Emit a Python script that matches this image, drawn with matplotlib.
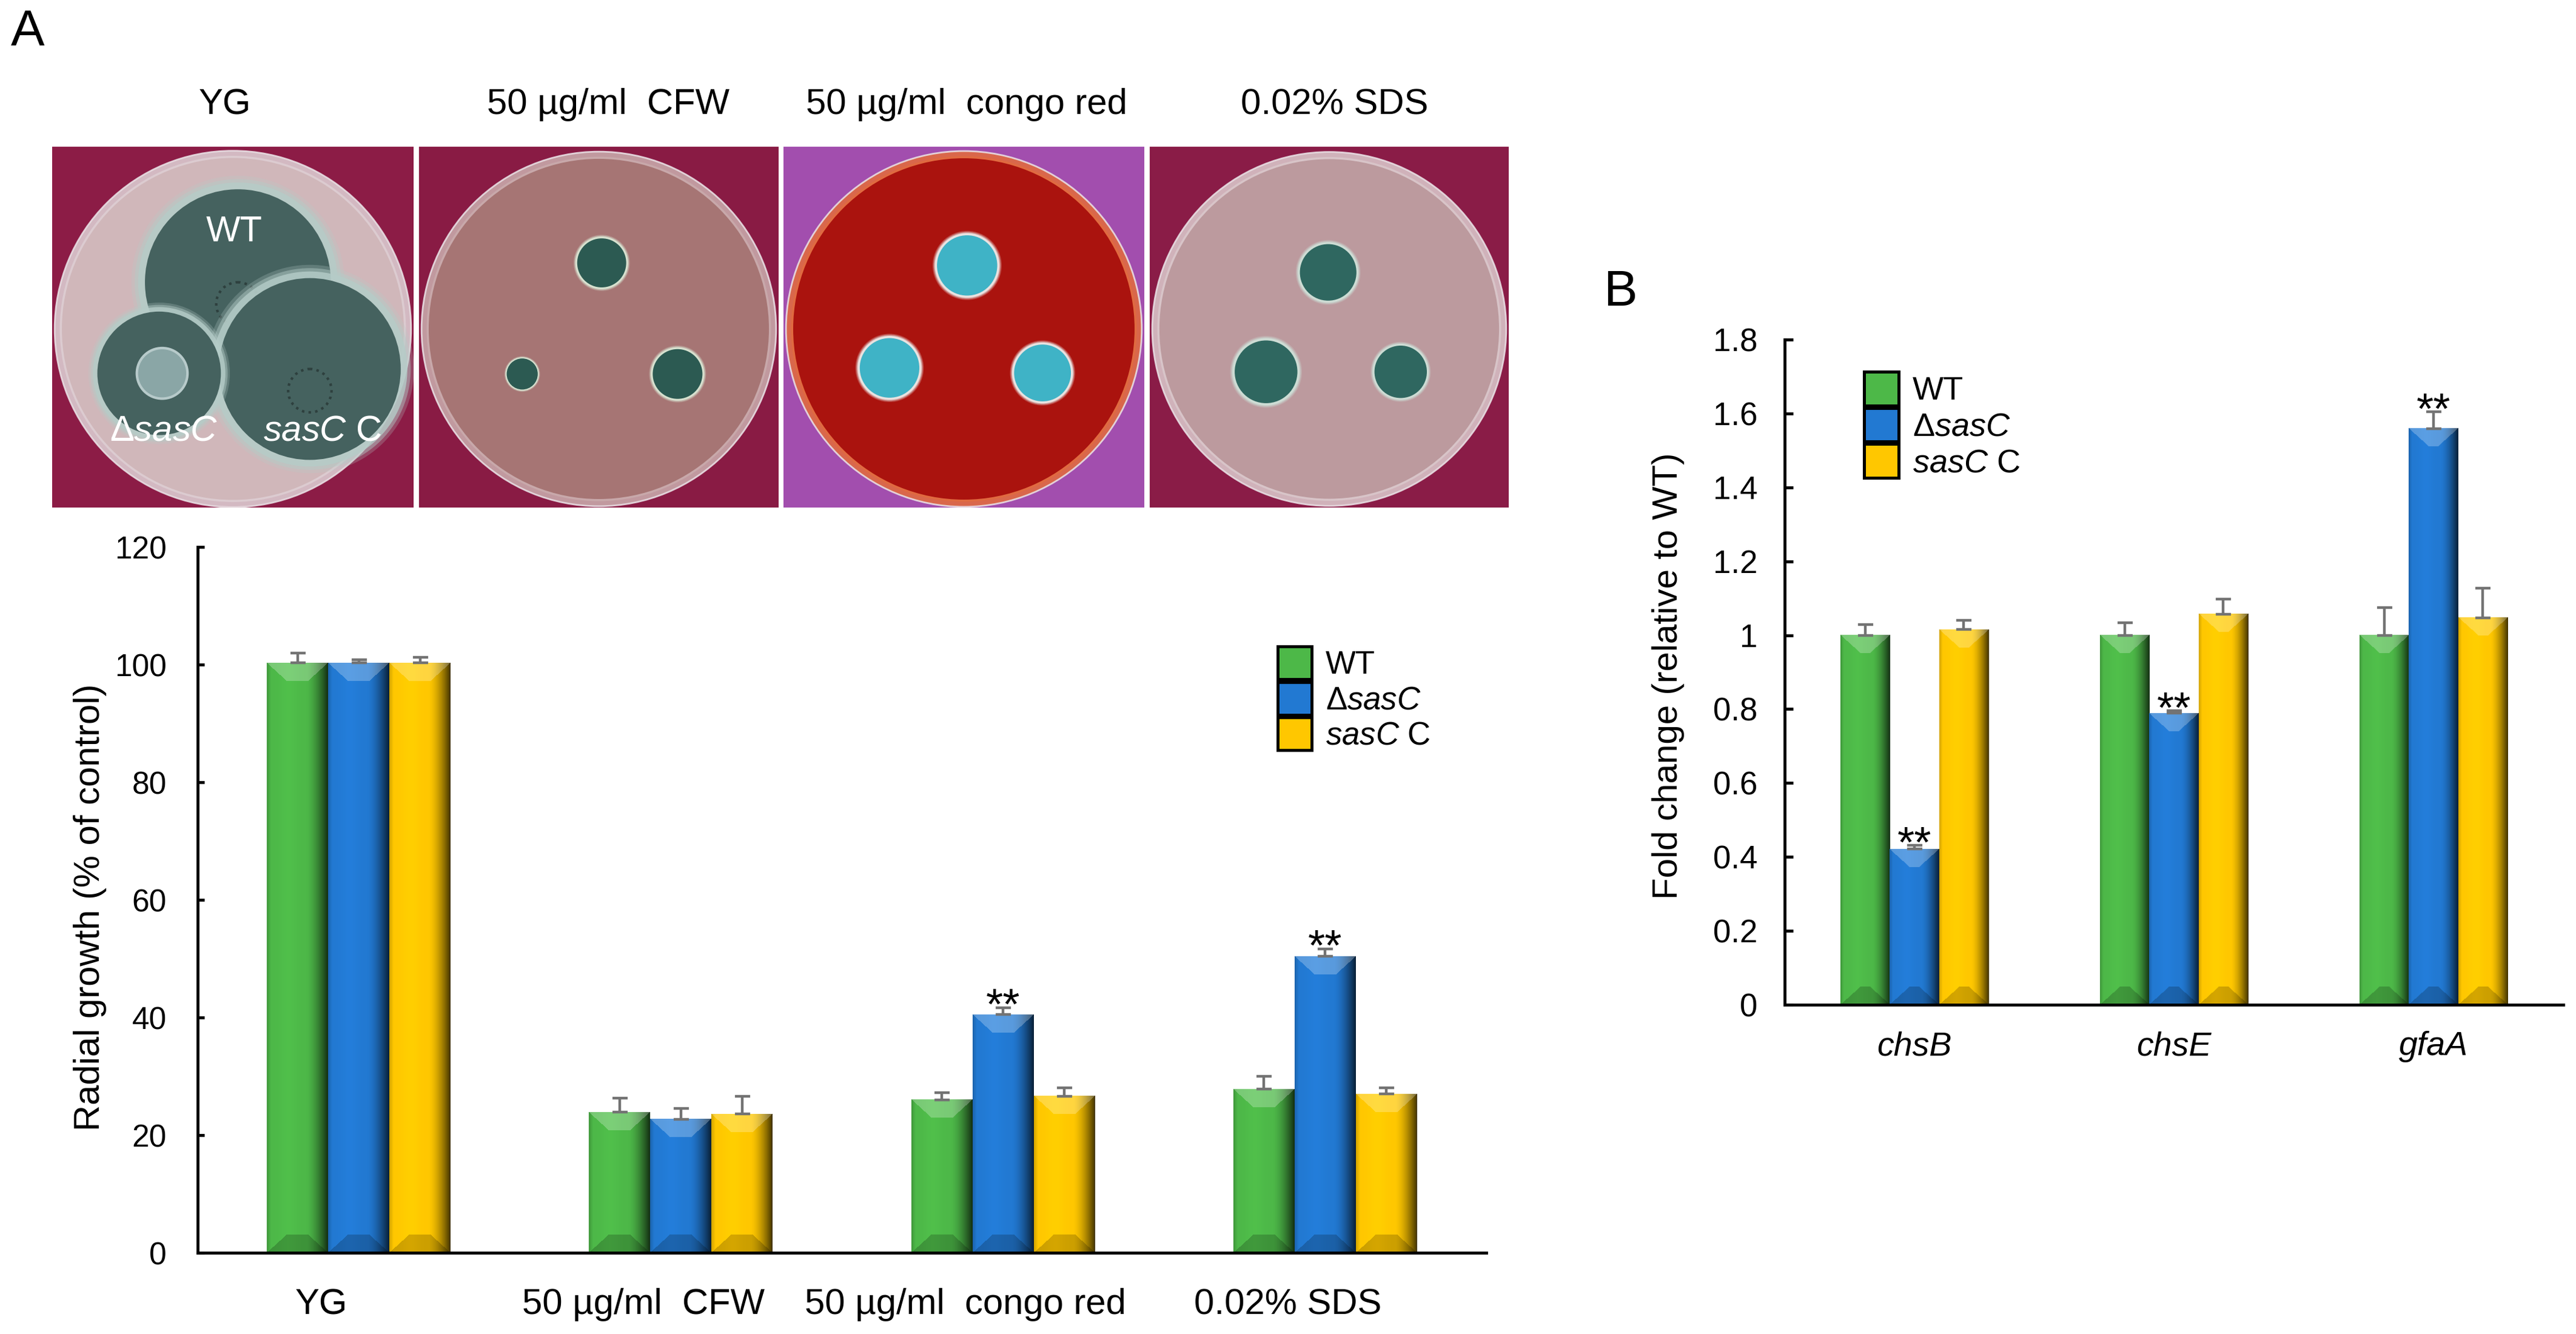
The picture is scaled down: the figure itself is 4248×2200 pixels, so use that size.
import numpy as np
import matplotlib
matplotlib.use("Agg")
import matplotlib.pyplot as plt
import matplotlib.colors as mcolors
import matplotlib.transforms as mtransforms
from matplotlib.patches import Patch, Rectangle, Circle

plt.rcParams['font.family'] = ['Liberation Sans', 'DejaVu Sans']
plt.rcParams['mathtext.fontset'] = 'custom'
plt.rcParams['mathtext.rm'] = 'Liberation Sans'
plt.rcParams['mathtext.it'] = 'Liberation Sans:italic'
plt.rcParams['mathtext.bf'] = 'Liberation Sans:bold'

# ---------------- data ----------------
strain_labels = ['WT', r'$\mathrm{\Delta}\mathit{sasC}$', r'$\mathit{sasC}\ \mathrm{C}$']
strain_colors = ['#4DB848', '#2279D2', '#FFC700']

conditions = ['YG', '50 µg/ml  CFW', '50 µg/ml  congo red', '0.02% SDS']
wt_growth = [100.3, 23.9, 26.0, 27.8]
wt_growth_err = [1.7, 2.4, 1.2, 2.2]
dsasC_growth = [100.3, 22.7, 40.5, 50.4]
dsasC_growth_err = [0.5, 1.8, 1.2, 1.3]
sasCC_growth = [100.3, 23.6, 26.6, 27.0]
sasCC_growth_err = [0.9, 3.0, 1.4, 1.0]
growth_sig = [False, False, True, True]
growth_ticks = [0, 20, 40, 60, 80, 100, 120]

genes = ['chsB', 'chsE', 'gfaA']
wt_fold = [1.0, 1.0, 1.0]
wt_fold_err = [0.028, 0.034, 0.075]
dsasC_fold = [0.421, 0.789, 1.559]
dsasC_fold_err = [0.010, 0.006, 0.045]
sasCC_fold = [1.015, 1.057, 1.047]
sasCC_fold_err = [0.025, 0.040, 0.080]
fold_sig = [True, True, True]
fold_ticks = [0, 0.2, 0.4, 0.6, 0.8, 1.0, 1.2, 1.4, 1.6, 1.8]

# ---------------- figure ----------------
W, H = 4248, 2200
fig = plt.figure(figsize=(W / 100, H / 100), dpi=100)
fig.patch.set_facecolor('white')


def fr(x0, y0, x1, y1):
    """pixel box (top-left origin) -> figure fraction rect"""
    return [x0 / W, 1 - y1 / H, (x1 - x0) / W, (y1 - y0) / H]


def bevel_image(color, wpx, hpx, bevel=30):
    c = np.array(mcolors.to_rgb(color))
    Wp = max(int(round(wpx)), 2)
    Hp = max(int(round(hpx)), 2)
    u = (np.arange(Wp) + 0.5) / Wp
    f = np.ones(Wp)
    f = np.where(u < 0.07, 0.82 + 0.18 * (u / 0.07), f)
    f = f * (1 + 0.04 * np.exp(-((u - 0.35) / 0.15) ** 2))
    t = np.clip((u - 0.64) / 0.36, 0, 1)
    f = f * (1 - 0.75 * t ** 1.6)
    img = np.tile((c[None, :] * f[:, None])[None, :, :], (Hp, 1, 1))
    xs = np.arange(Wp)[None, :] + 0.5
    ys = np.arange(Hp)[:, None] + 0.5
    b = min(bevel, Hp / 2.0)
    top = (ys < b) & (xs > ys * 1.1) & (xs < Wp - ys * 1.1)
    light = img + (1 - img) * 0.25
    img = np.where(top[..., None], light, img)
    yb = Hp - ys
    bot = (yb < b) & (xs > yb * 1.1) & (xs < Wp - yb * 1.1)
    img = np.where(bot[..., None], img * 0.80, img)
    return np.clip(img, 0, 1)


def grouped_bars(ax, cats, series, errs, sig, ylim, star_size, star_off):
    n = len(series)
    width = 0.19
    x = np.arange(len(cats))
    ax.set_xlim(-0.5, len(cats) - 0.5)
    ax.set_ylim(*ylim)
    for i, (vals, ee, col) in enumerate(zip(series, errs, strain_colors)):
        xi = x + (i - (n - 1) / 2) * width
        bars = ax.bar(xi, vals, width=width, color=col, linewidth=0, zorder=1)
        for r in bars:
            x0, h = r.get_x(), r.get_height()
            p0 = ax.transData.transform((x0, 0))
            p1 = ax.transData.transform((x0 + width, h))
            img = bevel_image(col, p1[0] - p0[0], p1[1] - p0[1])
            ax.imshow(img, extent=(x0, x0 + width, 0, h), origin='upper',
                      aspect='auto', interpolation='bilinear', zorder=1.5)
        ax.errorbar(xi, vals, yerr=[np.zeros(len(vals)), ee], fmt='none',
                    ecolor='#737373', elinewidth=3.2, capsize=9, capthick=3.2,
                    zorder=3)
        if i == 1:
            for k, s in enumerate(sig):
                if s:
                    ax.annotate('**', (xi[k], vals[k] + ee[k]),
                                xytext=(0, star_off), textcoords='offset points',
                                ha='center', va='baseline', fontsize=star_size,
                                zorder=4)
    ax.set_xlim(-0.5, len(cats) - 0.5)
    ax.set_ylim(*ylim)
    for s in ['top', 'right']:
        ax.spines[s].set_visible(False)
    for s in ['left', 'bottom']:
        ax.spines[s].set_linewidth(3.5)
        ax.spines[s].set_color('black')
    ax.set_xticks(x)
    return x


# ---------------- panel A: bar chart ----------------
axA = fig.add_axes(fr(326, 902, 2451, 2066))
grouped_bars(axA, conditions,
             [wt_growth, dsasC_growth, sasCC_growth],
             [wt_growth_err, dsasC_growth_err, sasCC_growth_err],
             growth_sig, (0, 120), 52, -14)
axA.set_yticks(growth_ticks)
axA.set_yticklabels([f'{v:g}' for v in growth_ticks])
axA.set_xticklabels(conditions)
axA.tick_params(axis='y', direction='in', length=8, width=3.5, labelsize=37, pad=37)
axA.tick_params(axis='x', length=0, labelsize=43, pad=42)
shift = mtransforms.ScaledTranslation(-0.62, 0, fig.dpi_scale_trans)
for lab in axA.get_xticklabels():
    lab.set_transform(lab.get_transform() + shift)
fig.text(149 / W, 1 - 1496 / H, 'Radial growth (% of control)', rotation=90,
         ha='center', va='center', fontsize=43)

handles = [Patch(facecolor=c, edgecolor='black', linewidth=3.6) for c in strain_colors]
legA = axA.legend(handles, strain_labels, loc='upper left',
                  bbox_to_anchor=(2107 / W, 1 - 1066 / H),
                  bbox_transform=fig.transFigure, frameon=False, fontsize=38,
                  borderpad=0, borderaxespad=0, handlelength=1.07,
                  handleheight=1.2, handletextpad=0.42, labelspacing=0.05)

# ---------------- panel B: bar chart ----------------
axB = fig.add_axes(fr(2943, 560, 4227, 1657))
grouped_bars(axB, genes,
             [wt_fold, dsasC_fold, sasCC_fold],
             [wt_fold_err, dsasC_fold_err, sasCC_fold_err],
             fold_sig, (0, 1.8), 52, -14)
axB.set_yticks(fold_ticks)
axB.set_yticklabels([f'{v:g}' for v in fold_ticks])
axB.set_xticklabels(genes, fontstyle='italic')
axB.tick_params(axis='y', direction='in', length=10, width=3.5, labelsize=38, pad=32)
axB.tick_params(axis='x', length=0, labelsize=40, pad=31)
fig.text(2751 / W, 1 - 1115 / H, 'Fold change (relative to WT)', rotation=90,
         ha='center', va='center', fontsize=42)
legB = axB.legend(handles, strain_labels, loc='upper left',
                  bbox_to_anchor=(3074 / W, 1 - 613 / H),
                  bbox_transform=fig.transFigure, frameon=False, fontsize=39,
                  borderpad=0, borderaxespad=0, handlelength=1.05,
                  handleheight=1.2, handletextpad=0.42, labelspacing=0.05)

# ---------------- panel A: plate photographs (stylised) ----------------
axP = fig.add_axes(fr(86, 242, 2488, 837))
axP.set_xlim(86, 2488)
axP.set_ylim(837, 242)
axP.axis('off')

plate_x = [(86, 682), (691, 1284), (1292, 1887), (1896, 2488)]
plate_bg = ['#8C1C46', '#891B44', '#A24EAE', '#8A1C47']
plate_agar = ['#D0B7BA', '#A67574', '#AA130E', '#BC9A9E']
plate_rim = ['#DCCBD0', '#C8A8AA', '#E06A40', '#D8C4C8']
colony_core = ['#45625F', '#2C5A52', '#3FB3C6', '#2F6760']
colony_halo = ['#B5CCC8', '#DCEBD8', '#F0F6F4', '#CFE3DA']
# colonies per plate: (cx, cy, r) as fractions of plate width
plate_colonies = [
    [(0.514, 0.375, 0.268), (0.713, 0.615, 0.262), (0.296, 0.627, 0.178)],
    [(0.508, 0.323, 0.071), (0.287, 0.632, 0.045), (0.719, 0.632, 0.072)],
    [(0.509, 0.329, 0.087), (0.294, 0.613, 0.086), (0.718, 0.627, 0.082)],
    [(0.497, 0.350, 0.082), (0.324, 0.627, 0.091), (0.699, 0.627, 0.076)],
]
photo_titles = ['YG', '50 µg/ml  CFW', '50 µg/ml  congo red', '0.02% SDS']
title_x = [371, 1003, 1594, 2201]

for k, (x0, x1) in enumerate(plate_x):
    s = x1 - x0
    y0 = 242
    axP.add_patch(Rectangle((x0, y0), s, 837 - y0, facecolor=plate_bg[k], edgecolor='none'))
    cx, cy = x0 + 0.5 * s, y0 + 0.505 * (837 - y0)
    axP.add_patch(Circle((cx, cy), 0.493 * s, facecolor=plate_rim[k], edgecolor='#E8DDE2',
                         linewidth=2, alpha=0.9))
    axP.add_patch(Circle((cx, cy), 0.476 * s, facecolor=plate_agar[k],
                         edgecolor=plate_rim[k], linewidth=2.5))
    for ci, (fx, fy, frr) in enumerate(plate_colonies[k]):
        px, py, rr = x0 + fx * s, y0 + fy * s, frr * s
        for j, a in enumerate([0.25, 0.45, 0.8]):
            axP.add_patch(Circle((px, py), rr * (1.10 - 0.035 * j), facecolor=colony_halo[k],
                                 edgecolor='none', alpha=a))
        axP.add_patch(Circle((px, py), rr * 0.96, facecolor=colony_core[k], edgecolor='none'))
        if k == 0 and ci < 2:
            axP.add_patch(Circle((px, py + 0.06 * s), 0.06 * s, facecolor='none',
                                 edgecolor='#2E403E', linewidth=3, linestyle=':'))
        if k == 0 and ci == 2:
            axP.add_patch(Circle((px + 5, py), 0.07 * s, facecolor='#8AA6A6',
                                 edgecolor='#B7CACA', linewidth=3))
    axP.text(title_x[k], 173, photo_titles[k], ha='center', va='center',
             fontsize=43, clip_on=False)

# labels inside YG plate
yg_label_pos = [(0.504, 0.235), (0.309, 0.787), (0.748, 0.787)]
for (fx, fy), lab in zip(yg_label_pos, strain_labels):
    axP.text(86 + fx * 596, 242 + fy * 596, lab, ha='center', va='center',
             fontsize=43, color='white')

# panel letters
fig.text(46 / W, 1 - 53 / H, 'A', ha='center', va='center', fontsize=60)
fig.text(2672 / W, 1 - 482 / H, 'B', ha='center', va='center', fontsize=60)

fig.savefig('out.png', dpi=100, facecolor='white')
